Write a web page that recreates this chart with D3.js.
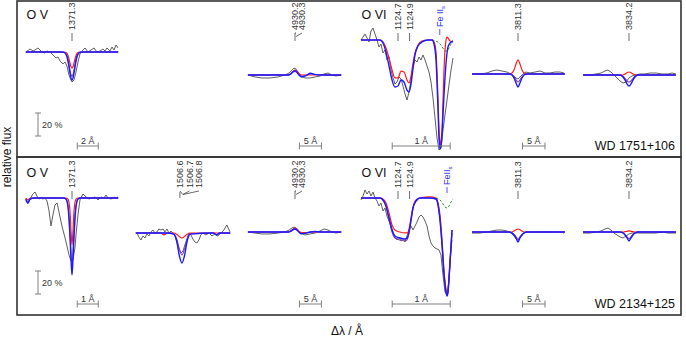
<!DOCTYPE html>
<html>
<head>
<meta charset="utf-8">
<script src="https://cdn.jsdelivr.net/npm/d3@7/dist/d3.min.js"></script>
<style>
body{margin:0;background:#fff;}
svg text{font-family:"Liberation Sans",Arial,Helvetica,sans-serif;}
</style>
</head>
<body>
<div id="chart"></div>
<script>
// ---------- data: Δλ (Å, rel. to marked line) and relative flux ----------
// WD 1751+106
var ovAObsW = [-4.38,-4.00,-3.71,-3.52,-3.24,-2.86,-2.57,-2.38,-2.10,-1.81,-1.52,-1.33,-1.14,-0.86,-0.67,-0.48,-0.29,-0.10,0.00,0.19,0.38,0.57,0.76,0.95,1.24,1.52,1.81,2.10,2.38,2.67,2.95,3.14,3.33,3.62,3.81,4.00,4.19,4.38]
var ovAObsF = [1.000,1.026,1.009,1.017,1.035,1.000,0.991,1.009,1.000,0.974,0.948,0.957,0.922,0.896,0.913,0.878,0.800,0.757,0.739,0.757,0.826,0.913,0.983,1.009,1.035,1.000,1.017,1.035,1.000,1.009,1.026,1.009,1.035,1.009,1.043,1.017,1.061,1.035]
var ovAModW = [-4.4,-1.0,-0.75,-0.5,-0.35,-0.2,-0.1,0,0.1,0.2,0.35,0.5,0.75,1.0,4.4]
var ovARed = [1,1,1,0.991,0.962,0.907,0.874,0.860,0.874,0.907,0.962,0.991,1,1,1]
var ovAPurple = [1,1,0.998,0.975,0.925,0.848,0.806,0.790,0.806,0.848,0.925,0.975,0.998,1,1]
var ovABlue = [1,1,0.997,0.966,0.905,0.820,0.775,0.755,0.775,0.820,0.905,0.966,0.997,1,1]

var heAObsW = [-10.68,-9.09,-7.50,-5.68,-3.86,-2.27,-1.36,-0.68,-0.23,0.23,0.68,1.36,2.27,3.41,4.55,5.68,6.59,7.50,8.41,9.32,10.45]
var heAObsF = [1.000,0.983,0.974,0.974,0.983,1.000,1.017,1.043,1.061,1.052,1.026,0.991,0.974,0.974,0.983,0.991,1.009,1.017,1.000,0.991,1.000]
var heModW = [-10.7,-3,-1.5,-1,-0.5,0,0.5,1,1.5,2.5,3.5,4.5,6,8,10.5]
var heARed = [1,1,1,1.010,1.030,1.043,1.030,1.010,1,1,1,1,1,1,1]
var heAPurple = [1,1,1,1.010,1.028,1.040,1.025,1.000,0.990,0.995,1.010,1.005,1,1,1]
var heABlue = [1,1,1,1.008,1.025,1.035,1.020,0.995,0.983,0.995,1.015,1.005,1,1,1]

var o6AObsW = [-0.638,-0.603,-0.569,-0.534,-0.500,-0.466,-0.431,-0.397,-0.362,-0.328,-0.293,-0.259,-0.224,-0.190,-0.155,-0.121,-0.086,-0.052,-0.017,0.017,0.052,0.086,0.121,0.155,0.190,0.224,0.259,0.293,0.328,0.362,0.397,0.431,0.466,0.500,0.534,0.569,0.603,0.638,0.672,0.707,0.741,0.776,0.810,0.845,0.879,0.914,0.948]
var o6AObsF = [1.000,1.026,1.052,1.017,0.983,1.078,1.104,1.052,1.000,0.939,0.965,0.887,0.913,0.826,0.852,0.739,0.670,0.617,0.635,0.678,0.661,0.600,0.530,0.478,0.548,0.652,0.765,0.826,0.809,0.852,0.826,0.870,0.826,0.774,0.722,0.635,0.496,0.322,0.148,0.043,0.061,0.217,0.348,0.478,0.609,0.739,0.843]
var o6AModW = [-0.638,-0.310,-0.259,-0.207,-0.155,-0.103,-0.052,0,0.052,0.103,0.155,0.190,0.224,0.259,0.293,0.345,0.414,0.517,0.586,0.621,0.655,0.690,0.707,0.724,0.741,0.759,0.776,0.793,0.810,0.828,0.845,0.862,0.897,0.948]
var o6ARed = [1,1,0.983,0.930,0.843,0.739,0.670,0.670,0.730,0.722,0.652,0.626,0.687,0.800,0.887,0.957,0.991,1,1,0.983,0.896,0.478,0.217,0.078,0.130,0.217,0.478,0.739,0.913,1,1.026,1.017,0.991,0.983]
var o6ABlue = [1,1,0.974,0.896,0.774,0.652,0.591,0.600,0.652,0.635,0.565,0.548,0.617,0.757,0.870,0.948,0.983,1,1,0.965,0.826,0.391,0.148,0.052,0.078,0.174,0.348,0.522,0.670,0.800,0.887,0.939,0.974,0.991]
var o6AGreenW = [0.586,0.655,0.724,0.776,0.810,0.845,0.879,0.914,0.948]
var o6AGreenF = [1,0.991,0.965,0.930,0.904,0.904,0.930,0.965,0.983]

var c3811ObsW = [-10.22,-8.44,-6.89,-5.78,-4.67,-3.56,-2.44,-1.56,-0.89,-0.44,0,0.44,1.11,1.78,2.67,3.78,4.89,6.0,7.11,8.22,9.33,10.22]
var c3811AObsF = [1,1,1.009,1.026,1.035,1.026,1.017,1,0.983,0.965,0.957,0.974,1,1.017,1.009,1.017,1.026,1.009,1.009,1.017,1.017,1.009]
var cModW = [-10.2,-2,-1.33,-0.89,-0.44,0,0.44,0.89,1.33,2,10.4]
var c3811ARed = [1,1,1.009,1.035,1.087,1.122,1.087,1.035,1.009,1,1]
var c3811APurple = [1,1,0.993,0.975,0.950,0.930,0.950,0.975,0.993,1,1]
var c3811ABlue = [1,1,0.991,0.965,0.922,0.887,0.922,0.965,0.991,1,1]

var c3834ObsW = [-10.22,-8.67,-7.33,-6.22,-5.33,-4.67,-4.0,-3.33,-2.67,-2.0,-1.33,-0.67,0,0.67,1.33,2.44,3.56,4.67,6.0,7.33,8.67,9.56,10.44]
var c3834AObsF = [1,1,1.009,1.017,1.035,1.043,1.026,1,0.974,0.948,0.930,0.939,0.974,0.991,1,1.009,1.009,1.017,1.017,1.009,1.009,1.017,1.009]
var c3834ARed = [1,1,1,1.009,1.020,1.026,1.020,1.009,1,1,1]
var c3834APurple = [1,1,0.990,0.970,0.950,0.939,0.950,0.970,0.990,1,1]
var c3834ABlue = [1,1,0.983,0.957,0.922,0.904,0.922,0.957,0.983,1,1]

// WD 2134+125
var ovBObsW = [-2.19,-2.10,-2.00,-1.86,-1.76,-1.67,-1.57,-1.48,-1.38,-1.29,-1.19,-1.10,-1.00,-0.90,-0.81,-0.71,-0.62,-0.52,-0.43,-0.33,-0.24,-0.14,-0.05,0,0.05,0.14,0.19,0.29,0.38,0.52,0.67,0.81,0.95,1.10,1.24,1.38,1.52,1.62,1.71,1.86,2.00,2.10,2.19]
var ovBObsF = [1,0.957,0.991,1.035,1.052,1.017,0.991,1,0.991,1,0.974,0.896,0.757,0.861,0.939,0.957,0.878,0.791,0.722,0.652,0.583,0.504,0.452,0.443,0.470,0.565,0.678,0.861,0.983,1.035,1.009,0.991,1,1.009,0.983,1.009,1,1.026,1,0.991,1.009,1,1.009]
var ovBModW = [-2.2,-2.1,-2.0,-1.8,-0.4,-0.29,-0.19,-0.1,-0.05,0,0.05,0.1,0.19,0.29,0.4,2.2]
var ovBRed = [0.996,0.983,0.996,1,1,1,0.990,0.896,0.722,0.591,0.722,0.896,0.990,1,1,1]
var ovBPurple = [0.990,0.960,0.990,1,1,0.993,0.935,0.720,0.540,0.417,0.540,0.720,0.935,0.993,1,1]
var ovBBlue = [0.990,0.955,0.990,1,1,0.991,0.922,0.678,0.478,0.330,0.478,0.678,0.922,0.991,1,1]

var ovbObsW = [-2.14,-2.05,-1.95,-1.86,-1.76,-1.67,-1.57,-1.48,-1.38,-1.29,-1.19,-1.10,-1.00,-0.90,-0.81,-0.71,-0.62,-0.52,-0.43,-0.33,-0.24,-0.14,-0.05,0.05,0.14,0.24,0.33,0.43,0.52,0.62,0.71,0.81,0.90,1.00,1.14,1.29,1.43,1.57,1.71,1.86,2.00,2.14,2.29]
var ovbObsF = [1,0.965,0.939,0.974,0.957,0.991,0.974,1.009,1.026,1,1.009,1.035,1.026,1.035,1.009,1.035,1,1.017,1,0.974,0.922,0.861,0.826,0.843,0.896,0.948,1,0.983,0.948,0.922,0.913,0.939,0.983,1,0.983,1,0.974,0.991,0.974,1,1.026,1.070,1.009]
var ovbModW = [-2.2,-1.0,-0.85,-0.7,-0.4,-0.25,-0.12,0,0.12,0.25,0.4,1.5,1.65,1.8,2.3]
var ovbRed = [1,1,0.983,1,1,0.990,0.970,0.957,0.970,0.990,1,1,1,1,1]
var ovbPurple = [1,1,1,1,0.993,0.950,0.860,0.809,0.860,0.950,0.993,1,0.983,1,1]
var ovbBlue = [1,1,1,1,0.990,0.930,0.800,0.739,0.800,0.930,0.990,1,0.983,1,1]

var heBObsF = [1,0.991,0.983,0.983,0.991,1,1.017,1.035,1.043,1.035,1.017,0.991,0.974,0.983,0.991,1.009,1.026,1.017,1,0.991,1]
var heBRed = [1,1,1,1.008,1.025,1.035,1.025,1.005,0.995,0.995,1,1,1,1,1]
var heBPurple = [1,1,1,1.006,1.020,1.030,1.018,0.997,0.988,0.992,1,1.003,1,1,1]
var heBBlue = [1,1,1,1.005,1.018,1.026,1.015,0.995,0.985,0.990,1,1.005,1,1,1]

var o6BObsW = [-0.638,-0.603,-0.569,-0.534,-0.500,-0.466,-0.431,-0.397,-0.362,-0.328,-0.293,-0.259,-0.224,-0.190,-0.155,-0.121,-0.086,-0.052,-0.017,0.017,0.052,0.086,0.121,0.155,0.190,0.224,0.259,0.293,0.328,0.362,0.397,0.431,0.466,0.500,0.534,0.569,0.603,0.638,0.672,0.707,0.741,0.776,0.810,0.845,0.879,0.914,0.931]
var o6BObsF = [0.983,1.017,1.070,1.035,1.061,1.017,1.052,1.000,0.974,0.930,0.957,0.887,0.913,0.843,0.800,0.757,0.704,0.661,0.635,0.661,0.626,0.652,0.617,0.670,0.722,0.757,0.722,0.757,0.791,0.835,0.852,0.835,0.800,0.757,0.670,0.609,0.583,0.565,0.557,0.548,0.504,0.330,0.183,0.157,0.287,0.548,0.635]
var o6BModW = [-0.638,-0.310,-0.259,-0.207,-0.155,-0.103,-0.052,0.034,0.121,0.155,0.190,0.224,0.259,0.310,0.379,0.552,0.655,0.690,0.724,0.759,0.793,0.828,0.845,0.862,0.897,0.931]
var o6BRed = [1,1,0.991,0.957,0.870,0.765,0.722,0.704,0.696,0.696,0.730,0.826,0.922,0.983,1,1.009,1,0.957,0.852,0.635,0.374,0.200,0.157,0.200,0.461,0.696]
var o6BPurple = [1,1,0.983,0.930,0.817,0.704,0.652,0.635,0.626,0.635,0.696,0.800,0.913,0.974,1,1,0.991,0.939,0.809,0.591,0.330,0.183,0.148,0.183,0.443,0.722]
var o6BBlue = [1,1,0.983,0.930,0.826,0.722,0.670,0.652,0.643,0.652,0.704,0.809,0.913,0.974,1,1,0.991,0.939,0.809,0.591,0.330,0.183,0.148,0.183,0.443,0.722]
var o6BGreenW = [0.655,0.724,0.776,0.810,0.845,0.879,0.914,0.948]
var o6BGreenF = [1,0.983,0.948,0.922,0.913,0.930,0.965,0.991]

var c3811BObsF = [0.991,0.991,1,1.009,1.017,1.017,1.009,0.991,0.965,0.939,0.930,0.948,0.983,1,1,1,1,1,1,1,1,0.991]
var c3811BRed = [1,1,1,1.009,1.020,1.026,1.020,1.009,1,1,1]
var c3811BPurple = [1,1,0.993,0.980,0.960,0.935,0.960,0.980,0.993,1,1]
var c3811BBlue = [1,1,0.991,0.974,0.948,0.913,0.948,0.974,0.991,1,1]

var c3834BObsF = [0.991,0.991,1,1.009,1.026,1.035,1.017,0.991,0.974,0.957,0.948,0.965,0.983,0.991,0.991,0.991,0.991,0.991,0.991,1,0.991,0.991,0.991]
var c3834BRed = [1,1,1,1.003,1.006,1.009,1.006,1.003,1,1,1]
var c3834BPurple = [1,1,0.993,0.980,0.960,0.940,0.960,0.980,0.993,1,1]
var c3834BBlue = [1,1,0.991,0.974,0.948,0.922,0.948,0.974,0.991,1,1]

// line identifications
var idOV = ["1371.3"]
var idOVb = ["1506.6","1506.7","1506.8"]
var idHe = ["4930.2","4930.3"]
var idO6 = ["1124.7","1124.9"]
var idO6Pos = [0, 0.2]
var feIIPosA = 0.72, feIIPosB = 0.845
var idC1 = ["3811.3"]
var idC2 = ["3834.2"]
var stars = ["WD 1751+106", "WD 2134+125"]

// ---------- layout ----------
const width = 686, height = 338;
const fluxPx = 115; // px per unit of relative flux (20 % = 23 px)

var svg = d3.select("#chart").append("svg")
	.attr("width", width).attr("height", height)

function pair(w, f){ return d3.zip(w, f) }

var rows = [
	{top: 0, star: stars[0], panels: [
		{ion: "O V", x0: 26, x1: 118, w0: -4.38, w1: 4.38, cont: 52, obs: pair(ovAObsW, ovAObsF),
		 mw: ovAModW, red: ovARed, purple: ovAPurple, blue: ovABlue, ids: idOV, idStep: 0, fluxBar: true, bar: [0.5, 2, "2 Å"]},
		{x0: 248, x1: 341, w0: -10.68, w1: 10.45, cont: 75, obs: pair(heAObsW, heAObsF),
		 mw: heModW, red: heARed, purple: heAPurple, blue: heABlue, ids: idHe, idStep: 7, bar: [1, 5, "5 Å"]},
		{ion: "O VI", x0: 361, x1: 453, w0: -0.638, w1: 0.948, cont: 40, obs: pair(o6AObsW, o6AObsF),
		 mw: o6AModW, red: o6ARed, blue: o6ABlue, green: pair(o6AGreenW, o6AGreenF), ids: idO6, idPos: idO6Pos, fe: feIIPosA, feSpace: true, bar: [-0.1, 1, "1 Å"]},
		{x0: 472, x1: 564, w0: -10.22, w1: 10.22, cont: 74, obs: pair(c3811ObsW, c3811AObsF),
		 mw: cModW, red: c3811ARed, purple: c3811APurple, blue: c3811ABlue, ids: idC1, bar: [1, 5, "5 Å"]},
		{x0: 583, x1: 676, w0: -10.22, w1: 10.44, cont: 75, obs: pair(c3834ObsW, c3834AObsF),
		 mw: cModW, red: c3834ARed, purple: c3834APurple, blue: c3834ABlue, ids: idC2}
	]},
	{top: 158, star: stars[1], panels: [
		{ion: "O V", x0: 26, x1: 118, w0: -2.19, w1: 2.19, cont: 198, obs: pair(ovBObsW, ovBObsF),
		 mw: ovBModW, red: ovBRed, purple: ovBPurple, blue: ovBBlue, ids: idOV, fluxBar: true, bar: [0.25, 1, "1 Å"]},
		{x0: 137, x1: 230, w0: -2.14, w1: 2.29, cont: 233, obs: pair(ovbObsW, ovbObsF),
		 mw: ovbModW, red: ovbRed, purple: ovbPurple, blue: ovbBlue, ids: idOVb, idStep: 9.5, idShift: -2},
		{x0: 248, x1: 341, w0: -10.68, w1: 10.45, cont: 232, obs: pair(heAObsW, heBObsF),
		 mw: heModW, red: heBRed, purple: heBPurple, blue: heBBlue, ids: idHe, idStep: 7, bar: [1, 5, "5 Å"]},
		{ion: "O VI", x0: 361, x1: 453, w0: -0.638, w1: 0.948, cont: 198, obs: pair(o6BObsW, o6BObsF),
		 mw: o6BModW, red: o6BRed, purple: o6BPurple, blue: o6BBlue, green: pair(o6BGreenW, o6BGreenF), ids: idO6, idPos: idO6Pos, fe: feIIPosB, bar: [-0.1, 1, "1 Å"]},
		{x0: 472, x1: 564, w0: -10.22, w1: 10.22, cont: 232, obs: pair(c3811ObsW, c3811BObsF),
		 mw: cModW, red: c3811BRed, purple: c3811BPurple, blue: c3811BBlue, ids: idC1, bar: [1, 5, "5 Å"]},
		{x0: 583, x1: 676, w0: -10.22, w1: 10.44, cont: 232, obs: pair(c3834ObsW, c3834BObsF),
		 mw: cModW, red: c3834BRed, purple: c3834BPurple, blue: c3834BBlue, ids: idC2}
	]}
]

function drawPanel(g, p, top){
	var x = d3.scaleLinear().domain([p.w0, p.w1]).range([p.x0, p.x1])
	var y = d3.scaleLinear().domain([0, 1]).range([p.cont + fluxPx, p.cont])
	var raw = d3.line().x(d => x(d[0])).y(d => y(d[1]))
	var smooth = d3.line().x(d => x(d[0])).y(d => y(d[1])).curve(d3.curveMonotoneX)

	g.append("path").attr("d", raw(p.obs)).attr("fill", "none")
		.attr("stroke", "#4d4d4d").attr("stroke-width", 0.9)
	if(p.green)
		g.append("path").attr("d", smooth(p.green)).attr("fill", "none")
			.attr("stroke", "#1aa01a").attr("stroke-width", 1).attr("stroke-dasharray", "2.5,1.8")
	var models = [["red", "#ff1a1a", 1.2], ["purple", "#8a3fb0", 1.1], ["blue", "#1a1aff", 1.4]]
	models.forEach(function(m){
		if(!p[m[0]]) return
		g.append("path").attr("d", smooth(pair(p.mw, p[m[0]]))).attr("fill", "none")
			.attr("stroke", m[1]).attr("stroke-width", m[2]).attr("stroke-linejoin", "round")
	})

	// line identifications
	var lx = x(0)
	p.ids.forEach(function(t, i){
		var pos = p.idPos ? x(p.idPos[i]) : lx
		var tx = p.idPos ? pos : lx + (p.idShift || 0) + i * (p.idStep || 0)
		var yEnd = top + 30
		g.append("text").attr("transform", "translate(" + (tx + 3.2) + "," + yEnd + ") rotate(-90)")
			.attr("font-size", 9).attr("fill", "#333").text(t)
		if(!p.idStep || i == 0 && !p.idShift)
			g.append("line").attr("x1", tx).attr("x2", tx).attr("y1", top + 33).attr("y2", top + 41)
				.attr("stroke", "#444").attr("stroke-width", 0.8)
		else
			g.append("line").attr("x1", tx).attr("x2", lx + 1).attr("y1", top + 33).attr("y2", top + 36.5)
				.attr("stroke", "#444").attr("stroke-width", 0.8)
	})
	if(p.idStep && p.idShift)
		g.append("line").attr("x1", lx - 2).attr("x2", lx - 2).attr("y1", top + 34).attr("y2", top + 40)
			.attr("stroke", "#444").attr("stroke-width", 0.8)
	if(p.idStep && !p.idShift)
		g.append("line").attr("x1", lx).attr("x2", lx + 1).attr("y1", top + 33).attr("y2", top + 33)
			.attr("stroke", "#444")

	if(p.fe !== undefined){
		var fx = x(p.fe)
		var ft = g.append("text").attr("transform", "translate(" + (fx + 3.2) + "," + (top + 27) + ") rotate(-90)")
			.attr("font-size", 9).attr("fill", "#2a2aff")
		ft.append("tspan").text(p.feSpace ? "Fe II" : "FeII")
		ft.append("tspan").attr("font-size", 6).attr("dy", 2).text("s")
		g.append("line").attr("x1", fx).attr("x2", fx).attr("y1", top + 29).attr("y2", top + 35)
			.attr("stroke", "#2a2aff").attr("stroke-width", 0.8)
	}

	// scale bars
	var barCol = "#808080"
	if(p.fluxBar){
		var fy0 = top + 113, fy1 = fy0 + (y(0.8) - y(1))
		g.append("line").attr("x1", 38).attr("x2", 38).attr("y1", fy0).attr("y2", fy1).attr("stroke", barCol)
		g.append("line").attr("x1", 35).attr("x2", 41).attr("y1", fy0).attr("y2", fy0).attr("stroke", barCol)
		g.append("line").attr("x1", 35).attr("x2", 41).attr("y1", fy1).attr("y2", fy1).attr("stroke", barCol)
		g.append("text").attr("x", 42).attr("y", top + 128).attr("font-size", 9).attr("fill", "#333").text("20 %")
	}
	if(p.bar){
		var bx0 = x(p.bar[0]), bx1 = x(p.bar[0] + p.bar[1]), by = top + 146
		g.append("line").attr("x1", bx0).attr("x2", bx1).attr("y1", by).attr("y2", by).attr("stroke", barCol)
		g.append("line").attr("x1", bx0).attr("x2", bx0).attr("y1", by - 3.5).attr("y2", by + 3.5).attr("stroke", barCol)
		g.append("line").attr("x1", bx1).attr("x2", bx1).attr("y1", by - 3.5).attr("y2", by + 3.5).attr("stroke", barCol)
		g.append("text").attr("x", (bx0 + bx1) / 2).attr("y", by - 2.5).attr("text-anchor", "middle")
			.attr("font-size", 9).attr("fill", "#333").text(p.bar[2])
	}
	if(p.ion)
		g.append("text").attr("x", p.x0 + 0.5).attr("y", top + 18.5).attr("font-size", 12.5).attr("fill", "#111").text(p.ion)
}

rows.forEach(function(r){
	var g = svg.append("g")
	r.panels.forEach(function(p){ drawPanel(g, p, r.top) })
	g.append("text").attr("x", 675).attr("y", r.top + 150).attr("text-anchor", "end")
		.attr("font-size", 12.5).attr("fill", "#111").text(r.star)
})

// frames
svg.append("rect").attr("x", 17).attr("y", 1).attr("width", 664).attr("height", 156)
	.attr("fill", "none").attr("stroke", "#333").attr("stroke-width", 1.6)
svg.append("rect").attr("x", 17).attr("y", 157).attr("width", 664).attr("height", 158)
	.attr("fill", "none").attr("stroke", "#333").attr("stroke-width", 1.6)

svg.append("text").attr("transform", "translate(11,157) rotate(-90)").attr("text-anchor", "middle")
	.attr("font-size", 12).attr("fill", "#111").text("relative flux")
svg.append("text").attr("x", 347).attr("y", 335).attr("text-anchor", "middle")
	.attr("font-size", 12).attr("fill", "#111").text("Δλ / Å")
</script>
</body>
</html>
